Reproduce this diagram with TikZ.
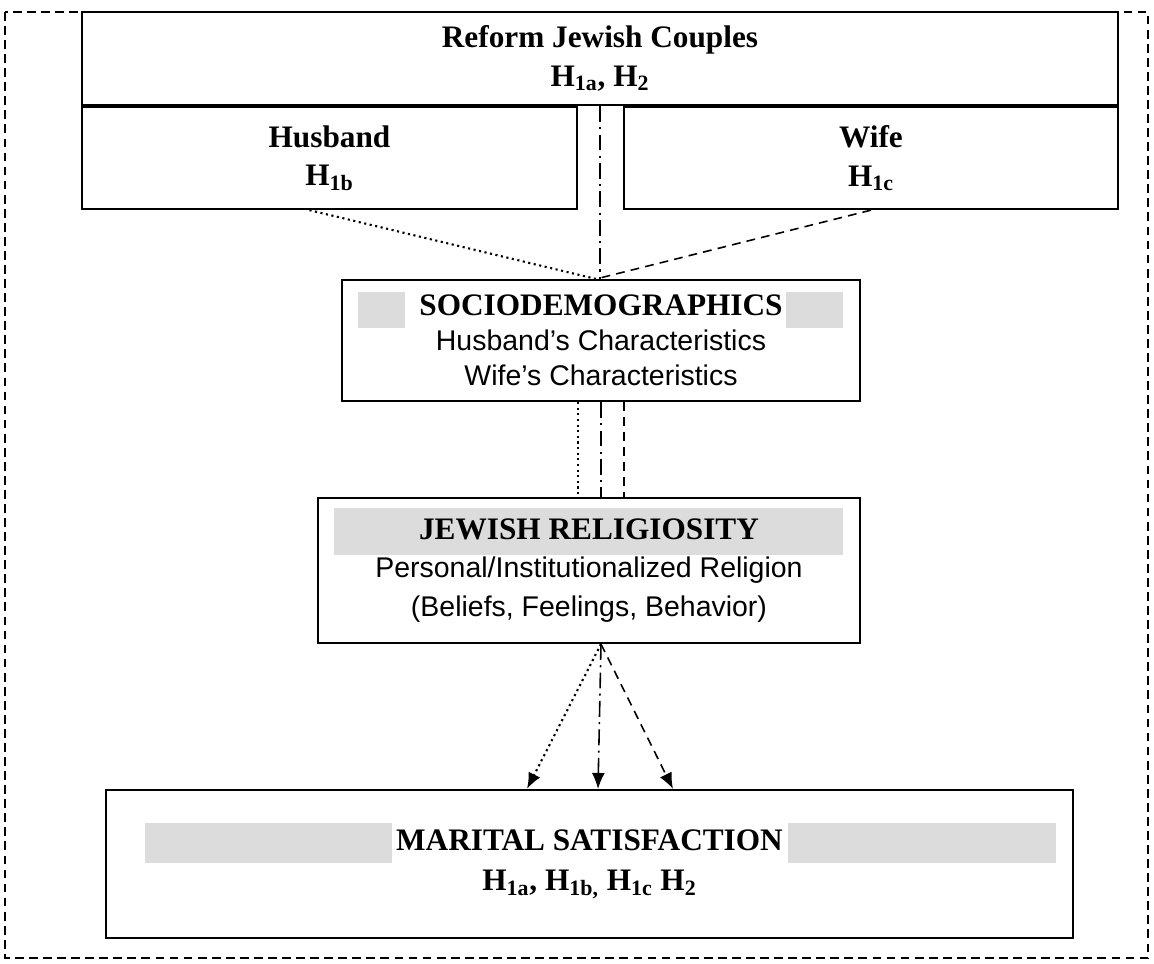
\documentclass[tikz,border=0pt]{standalone}
\usepackage{fontspec}
\setmainfont{Liberation Serif}
\newfontfamily\arialfont{Liberation Sans}
\usetikzlibrary{arrows.meta, positioning, calc, backgrounds}
\definecolor{shadeGray}{HTML}{DCDCDC}
\newcommand{\hdfont}{\bfseries\fontsize{17.8}{22}\selectfont}
\newcommand{\subfont}{\arialfont\mdseries\fontsize{16.2}{19.5}\selectfont}
\tikzset{
  frameLine/.style={line width=1pt, dash pattern=on 5pt off 3pt},
  boxH/.style={rectangle, draw=black, line width=1.2pt, align=center,
               font=\hdfont, inner sep=2pt},
  lnDot/.style={line width=1.2pt, dotted},
  lnDash/.style={line width=0.9pt, dash pattern=on 5pt off 3.5pt},
  lnDashDot/.style={line width=0.9pt, dash pattern=on 9pt off 3pt on 1.2pt off 3pt},
  tipL/.style={-{Latex[length=3.2mm, width=2.6mm]}},
  barG/.style={fill=shadeGray},
}
\begin{document}
\begin{tikzpicture}
    \useasboundingbox (0,0) rectangle (23.08,-19.28);
    \draw[frameLine] (0.1,-0.24) rectangle (22.96,-19.16);
    % couples + spouses
    \node[boxH, minimum width=20.72cm, minimum height=1.86cm] (couples) at (12,-1.17)
         {Reform Jewish Couples\\[0pt] H\textsubscript{1a}, H\textsubscript{2}};
    \node[boxH, minimum width=9.9cm, minimum height=2.04cm, anchor=north west] (husband)
         at (couples.south west) {Husband\\[0pt] H\textsubscript{1b}};
    \node[boxH, minimum width=9.88cm, minimum height=2.04cm, anchor=north east] (wife)
         at (couples.south east) {Wife\\[0pt] H\textsubscript{1c}};
    % model boxes
    \node[boxH, minimum width=10.36cm, minimum height=2.42cm] (socio) at (12.02,-6.81)
         {SOCIODEMOGRAPHICS\\[-2pt] {\subfont Husband’s Characteristics}\\[-2pt] {\subfont Wife’s Characteristics}};
    \node[boxH, minimum width=10.84cm, minimum height=2.9cm] (relig) at (11.78,-11.41)
         {JEWISH RELIGIOSITY\\ {\subfont Personal/Institutionalized Religion}\\ {\subfont (Beliefs, Feelings, Behavior)}};
    \node[boxH, minimum width=19.34cm, minimum height=2.96cm] (marital) at (11.79,-17.28)
         {MARITAL SATISFACTION\\[1pt] H\textsubscript{1a}, H\textsubscript{1b,} H\textsubscript{1c} H\textsubscript{2}};
    \begin{scope}[on background layer]
      \fill[barG] (7.16,-5.84) rectangle (16.86,-6.56);
      \fill[white] (8.1,-5.8) rectangle (15.72,-6.6);
      \fill[barG] (6.68,-10.16) rectangle (16.86,-11.1);
      \fill[barG] (2.9,-16.46) rectangle (21.12,-17.26);
      \fill[white] (7.84,-16.4) rectangle (15.76,-17.3);
    \end{scope}
    % connectors
    \coordinate (sTop) at ($(socio.north)+(-0.1,0)$);
    \draw[lnDot] ($(husband.south)+(-0.4,0)$) -- (sTop);
    \draw[lnDash] (wife.south) -- (sTop);
    \draw[lnDashDot] (couples.south) -- (couples.south |- socio.north);
    \coordinate (sL) at ($(socio.south)+(-0.46,0)$);
    \coordinate (sR) at ($(socio.south)+(0.46,0)$);
    \draw[lnDot] (sL) -- (sL |- relig.north);
    \draw[lnDashDot] (socio.south) -- (socio.south |- relig.north);
    \draw[lnDash] (sR) -- (sR |- relig.north);
    \coordinate (rBot) at (socio.south |- relig.south);
    \draw[lnDot, tipL] (rBot) -- ($(marital.north)+(-1.25,0)$);
    \draw[lnDashDot, tipL] (rBot) -- ($(marital.north)+(0.17,0)$);
    \draw[lnDash, tipL] (rBot) -- ($(marital.north)+(1.67,0)$);
\end{tikzpicture}
\end{document}
